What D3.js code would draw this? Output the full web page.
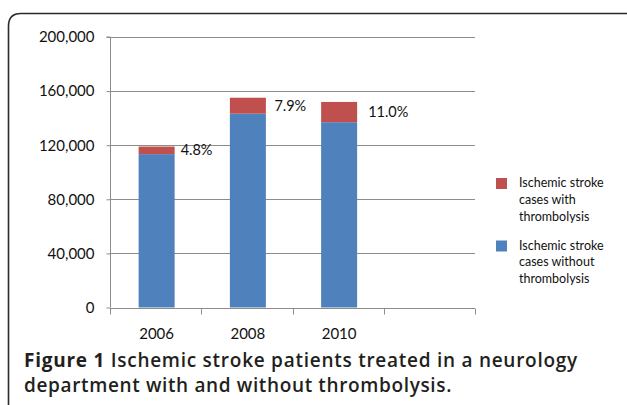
<!DOCTYPE html>
<html>
<head>
<meta charset="utf-8">
<script src="https://cdn.jsdelivr.net/npm/d3@7"></script>
<style>
html,body{margin:0;padding:0;background:#fff;}
svg{display:block;}
</style>
</head>
<body>
<svg id="chart" width="627" height="405"></svg>
<script>
const categories = ["2006", "2008", "2010", ""];
const withoutThrombolysis = [113400, 143300, 137000];
const withThrombolysis = [5600, 11800, 15000];
const percentLabels = ["4.8%", "7.9%", "11.0%"];
const yTicks = [0, 40000, 80000, 120000, 160000, 200000];
const seriesNames = [
  ["Ischemic stroke", "cases with", "thrombolysis"],
  ["Ischemic stroke", "cases without", "thrombolysis"]
];
const captionBold = "Figure 1";
const captionLine1 = "Ischemic stroke patients treated in a neurology";
const captionLine2 = "department with and without thrombolysis.";

const BLUE = "#4F81BD", RED = "#C0504D", GRID = "#8c8c8c";
const chartFont = "Lato, 'Liberation Sans', sans-serif";
const capFont = "'Open Sans', 'Noto Sans', sans-serif";

const svg = d3.select("#chart");

// frame
svg.append("path")
  .attr("d", "M8.5,410 L8.5,26 Q8.5,13.5 21,13.5 L640,13.5")
  .attr("fill", "none").attr("stroke", "#2b2b2b").attr("stroke-width", 1.6);

const x0 = 110, x1 = 475, yTop = 37, yBot = 307.5;
const x = d3.scaleBand().domain(categories.map((c, i) => i)).range([x0, x1]).paddingInner(0).paddingOuter(0);
const y = d3.scaleLinear().domain([0, 200000]).range([yBot, yTop]);

// gridlines
svg.append("g").selectAll("line").data(yTicks.filter(d => d > 0)).join("line")
  .attr("x1", x0).attr("x2", x1)
  .attr("y1", d => Math.round(y(d)) + 0.5).attr("y2", d => Math.round(y(d)) + 0.5)
  .attr("stroke", GRID).attr("stroke-width", 1);

// y axis
const yAxis = d3.axisLeft(y).tickValues(yTicks).tickSize(4).tickPadding(12)
  .tickFormat(d3.format(","));
const gy = svg.append("g").attr("transform", `translate(${x0 + 0.5},0)`).call(yAxis);
gy.select(".domain").attr("stroke", GRID).attr("d", `M-4,${yTop}H0V${yBot}`);
gy.selectAll(".tick line").attr("stroke", GRID);
gy.selectAll(".tick text").attr("font-family", chartFont).attr("font-size", 15).attr("fill", "#111");

// x axis
const gx = svg.append("g").attr("transform", `translate(0,${Math.round(yBot) + 0.5})`);
gx.append("line").attr("x1", x0).attr("x2", x1).attr("stroke", GRID);
const bounds = categories.map((c, i) => x(i)).concat([x1]);
gx.selectAll("line.tk").data(bounds).join("line").attr("class", "tk")
  .attr("x1", d => Math.round(d) + 0.5).attr("x2", d => Math.round(d) + 0.5)
  .attr("y1", 0).attr("y2", 6).attr("stroke", GRID);
gx.selectAll("text").data(categories).join("text")
  .attr("x", (d, i) => x(i) + x.bandwidth() / 2 + 1)
  .attr("y", 30)
  .attr("text-anchor", "middle")
  .attr("font-family", chartFont).attr("font-size", 15).attr("fill", "#111")
  .text(d => d);

// bars
const barW = 36;
const bx = i => x(i) + x.bandwidth() / 2 - barW / 2 + 1;
svg.append("g").selectAll("rect").data(withoutThrombolysis).join("rect")
  .attr("x", (d, i) => bx(i)).attr("width", barW)
  .attr("y", d => y(d)).attr("height", d => y(0) - y(d))
  .attr("fill", BLUE);
svg.append("g").selectAll("rect").data(withThrombolysis).join("rect")
  .attr("x", (d, i) => bx(i)).attr("width", barW)
  .attr("y", (d, i) => y(d + withoutThrombolysis[i]))
  .attr("height", (d, i) => y(withoutThrombolysis[i]) - y(d + withoutThrombolysis[i]))
  .attr("fill", RED);

// percent labels
svg.append("g").selectAll("text").data(percentLabels).join("text")
  .attr("x", (d, i) => bx(i) + barW + 6 + i * 2.5)
  .attr("y", (d, i) => (y(withoutThrombolysis[i]) + y(withoutThrombolysis[i] + withThrombolysis[i])) / 2)
  .attr("dy", "0.35em")
  .attr("font-family", chartFont).attr("font-size", 14.5).attr("fill", "#111")
  .text(d => d);

// legend
const legend = svg.append("g");
const legColors = [RED, BLUE];
const legTop = [178, 240.5];
seriesNames.forEach((lines, k) => {
  legend.append("rect").attr("x", 496).attr("y", legTop[k]).attr("width", 11).attr("height", 11)
    .attr("fill", legColors[k]);
  lines.forEach((t, j) => {
    legend.append("text").attr("x", 519).attr("y", legTop[k] + 9 + j * 16.8)
      .attr("font-family", chartFont).attr("font-size", 12.5).attr("fill", "#111").text(t);
  });
});

// caption
const cap = svg.append("g").attr("font-family", capFont).attr("font-size", 19).attr("fill", "#231f20");
const t1 = cap.append("text").attr("x", 24).attr("y", 367);
t1.append("tspan").attr("font-weight", 700).text(captionBold + " ");
t1.append("tspan").attr("font-weight", 600).text(captionLine1);
const t2 = cap.append("text").attr("x", 24).attr("y", 392).attr("font-weight", 600).text(captionLine2);
function fit(sel, right) {
  const n = sel.text().length;
  const w = sel.node().getComputedTextLength();
  const extra = (right - 24) - w;
  sel.attr("letter-spacing", Math.max(0, extra / n));
}
fit(t1, 578);
fit(t2, 452);
</script>
</body>
</html>
